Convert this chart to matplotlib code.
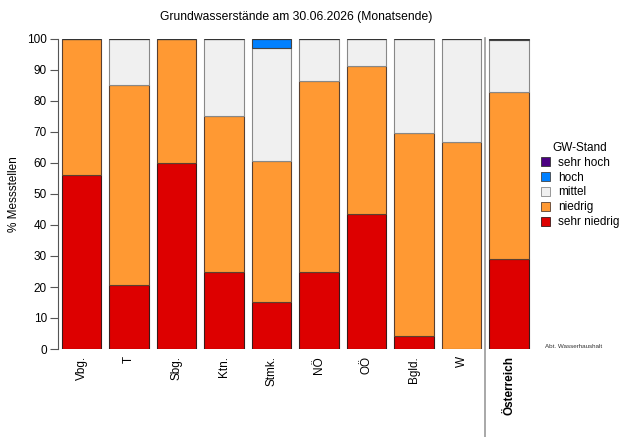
import matplotlib
matplotlib.use("Agg")
import matplotlib.pyplot as plt
from matplotlib.lines import Line2D
import numpy as np

plt.rcParams['font.family'] = ['Liberation Sans', 'DejaVu Sans']

regions = ["Vbg.", "T", "Sbg.", "Ktn.", "Stmk.", "NÖ", "OÖ", "Bgld.", "W", "Österreich"]
sehr_niedrig = [56.0, 20.6, 60.0, 25.0, 15.2, 25.0, 43.5, 4.3, 0.0, 29.0]
niedrig      = [44.0, 64.7, 40.0, 50.0, 45.4, 61.4, 47.8, 65.3, 66.7, 53.8]
mittel       = [0.0, 14.7, 0.0, 25.0, 36.4, 13.6, 8.7, 30.4, 33.3, 16.8]
hoch         = [0.0, 0.0, 0.0, 0.0, 3.0, 0.0, 0.0, 0.0, 0.0, 0.3]
sehr_hoch    = [0.0, 0.0, 0.0, 0.0, 0.0, 0.0, 0.0, 0.0, 0.0, 0.1]

series = [
    ("sehr niedrig", sehr_niedrig, "#DD0000", "#3a1a1a"),
    ("niedrig", niedrig, "#FF9933", "#5a4030"),
    ("mittel", mittel, "#F0F0F0", "#888888"),
    ("hoch", hoch, "#0080FF", "#444444"),
    ("sehr hoch", sehr_hoch, "#4B0082", "#333333"),
]

fig = plt.figure(figsize=(6.3, 4.37), dpi=100)
W, H = 630, 437
ax = fig.add_axes([58 / W, 1 - 349 / H, (535 - 58) / W, 310 / H])

x = np.arange(len(regions))
bottom = np.zeros(len(regions))
handles = {}
for name, vals, color, edge in series:
    vals = np.array(vals)
    b = ax.bar(x, vals, bottom=bottom, width=0.84, color=color, edgecolor=edge,
               linewidth=0.8, label=name)
    handles[name] = b
    bottom += vals

ax.set_xlim(-0.495, 9.547)
ax.set_ylim(0, 100)
ax.set_yticks(np.arange(0, 101, 10))
ax.tick_params(axis='y', length=6, width=0.8, color='#555555', labelsize=8.5, pad=2)
ax.set_xticks(x)
ax.set_xticklabels(regions, rotation=90, fontsize=8.5)
ax.tick_params(axis='x', length=0, pad=5)
for lbl in ax.get_xticklabels():
    if lbl.get_text() == "Österreich":
        lbl.set_fontweight('bold')
for s in ['top', 'right', 'bottom']:
    ax.spines[s].set_visible(False)
ax.spines['left'].set_color('#555555')
ax.spines['left'].set_linewidth(0.8)
ax.set_ylabel("% Messstellen", fontsize=8.5)
ax.yaxis.set_label_coords((20 - 58) / 477, 0.5)

fig.text(296 / W, 1 - 17 / H, "Grundwasserstände am 30.06.2026 (Monatsende)",
         ha='center', va='center', fontsize=8.7)

# separator line
fig.add_artist(Line2D([485 / W, 485 / W], [1 - 38 / H, 0], color='#999999', linewidth=1.2))

order = ["sehr hoch", "hoch", "mittel", "niedrig", "sehr niedrig"]
leg = fig.legend([handles[n] for n in order], order, loc='upper left',
                 bbox_to_anchor=(530 / W, 1 - 131 / H), frameon=False,
                 title="GW-Stand", fontsize=8.5, title_fontsize=8.5,
                 handlelength=0.8, handleheight=0.8, handletextpad=0.7,
                 labelspacing=0.25)
for h in leg.legend_handles:
    h.set_linewidth(0.6)

fig.text(545 / W, 1 - 347 / H, "Abt. Wasserhaushalt", fontsize=4.5, ha='left', va='center',
         color='#333333')

fig.savefig("out.png", dpi=100)
